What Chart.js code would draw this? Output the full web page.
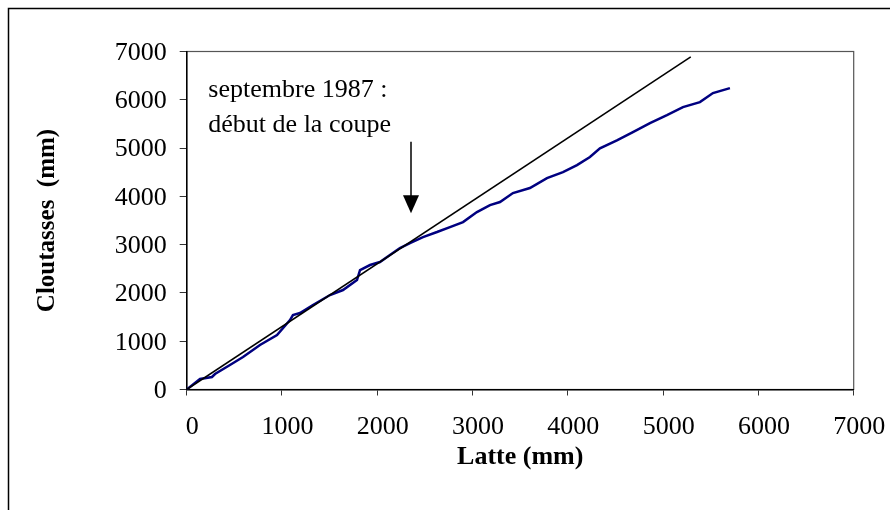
<!DOCTYPE html>
<html>
<head>
<meta charset="utf-8">
<script src="https://cdn.jsdelivr.net/npm/chart.js@4"></script>
<style>
  html, body { margin: 0; padding: 0; background: #fff; }
  #wrap { width: 890px; height: 510px; position: relative; }
</style>
</head>
<body>
<div id="wrap"><canvas id="chart"></canvas></div>
<script>
const latte = [0, 140, 265, 297, 454, 591, 769, 948, 1084, 1115, 1189, 1325, 1504, 1640, 1787, 1819, 1924, 2028, 2133, 2238,
  2343, 2480, 2627, 2763, 2900, 3046, 3183, 3288, 3424, 3602, 3781, 3949, 4096, 4232, 4337, 4515, 4683, 4862, 5040,
  5208, 5386, 5523, 5701];
const cloutasses = [0, 217, 259, 321, 507, 673, 921, 1129, 1439, 1542, 1584, 1749, 1957, 2060, 2267, 2474, 2578, 2640, 2785, 2930,
  3033, 3157, 3261, 3364, 3468, 3675, 3820, 3882, 4068, 4172, 4379, 4503, 4648, 4814, 4994, 5160, 5331, 5518, 5683,
  5849, 5952, 6139, 6242];

// droite de référence
const refX = [0, 5290];
const refY = [0, 6890];

const xTicks = [0, 1000, 2000, 3000, 4000, 5000, 6000, 7000];
const yTicks = [0, 1000, 2000, 3000, 4000, 5000, 6000, 7000];

// annotation (coordonnées en mm)
const noteLines = ['septembre 1987 :', 'début de la coupe'];
const noteX = 227;
const noteY = [6066, 5337];
const arrowX = 2354;
const arrowFrom = 5130;
const arrowTo = 3648;

const serif = "'Liberation Serif', 'Times New Roman', serif";

const toPoints = (xs, ys) => xs.map((x, i) => ({ x: x, y: ys[i] }));

const framePlugin = {
  id: 'frame',
  beforeDraw(chart) {
    const ctx = chart.ctx;
    ctx.save();
    ctx.fillStyle = '#fff';
    ctx.fillRect(0, 0, chart.width, chart.height);
    ctx.strokeStyle = '#000';
    ctx.lineWidth = 1.5;
    ctx.strokeRect(8.5, 8.5, 1000, 1000);
    const a = chart.chartArea;
    ctx.strokeStyle = '#555';
    ctx.lineWidth = 1.2;
    ctx.strokeRect(a.left, a.top, a.right - a.left, a.bottom - a.top);
    ctx.restore();
  }
};

const notePlugin = {
  id: 'note',
  afterDatasetsDraw(chart) {
    const ctx = chart.ctx;
    const xs = chart.scales.x, ys = chart.scales.y;
    ctx.save();
    ctx.fillStyle = '#000';
    ctx.font = '26px ' + serif;
    ctx.textAlign = 'left';
    ctx.textBaseline = 'alphabetic';
    noteLines.forEach((t, i) => {
      ctx.fillText(t, xs.getPixelForValue(noteX), ys.getPixelForValue(noteY[i]));
    });
    // flèche
    const ax = xs.getPixelForValue(arrowX);
    const y0 = ys.getPixelForValue(arrowFrom);
    const y1 = ys.getPixelForValue(arrowTo);
    ctx.strokeStyle = '#000';
    ctx.lineWidth = 1.5;
    ctx.beginPath();
    ctx.moveTo(ax, y0);
    ctx.lineTo(ax, y1 - 16);
    ctx.stroke();
    ctx.beginPath();
    ctx.moveTo(ax - 8, y1 - 18);
    ctx.lineTo(ax + 8, y1 - 18);
    ctx.lineTo(ax, y1);
    ctx.closePath();
    ctx.fill();
    ctx.restore();
  }
};

new Chart(document.getElementById('chart'), {
  type: 'scatter',
  data: {
    datasets: [
      {
        data: toPoints(refX, refY),
        showLine: true,
        borderColor: '#000',
        borderWidth: 1.6,
        pointRadius: 0
      },
      {
        data: toPoints(latte, cloutasses),
        showLine: true,
        borderColor: '#000080',
        borderWidth: 2.5,
        pointRadius: 0
      }
    ]
  },
  options: {
    responsive: true,
    maintainAspectRatio: false,
    animation: false,
    events: [],
    layout: { padding: { left: 0, top: 51.5, right: 36.3, bottom: 0 } },
    plugins: {
      legend: { display: false },
      tooltip: { enabled: false }
    },
    scales: {
      x: {
        type: 'linear',
        min: 0,
        max: 7000,
        afterBuildTicks: s => { s.ticks = xTicks.map(v => ({ value: v })); },
        afterFit: s => { s.height = 120.5; s.paddingLeft = 0; s.paddingRight = 0; },
        border: { color: '#000', width: 1.5 },
        grid: { drawOnChartArea: false, drawTicks: true, tickLength: 6, color: '#333' },
        ticks: {
          color: '#000', font: { family: serif, size: 26 }, padding: 16, labelOffset: 5.5, maxRotation: 0,
          callback: v => String(v)
        },
        title: {
          display: true,
          text: 'Latte (mm)',
          color: '#000',
          font: { family: serif, size: 26, weight: 'bold' },
          padding: { top: 0, bottom: 37 }
        }
      },
      y: {
        type: 'linear',
        min: 0,
        max: 7000,
        afterBuildTicks: s => { s.ticks = yTicks.map(v => ({ value: v })); },
        afterFit: s => { s.width = 186.7; s.paddingTop = 0; s.paddingBottom = 0; },
        border: { color: '#000', width: 1.5 },
        grid: { drawOnChartArea: false, drawTicks: true, tickLength: 7, color: '#333' },
        ticks: {
          color: '#000', font: { family: serif, size: 26 }, padding: 13, labelOffset: 1.5,
          callback: v => String(v)
        },
        title: {
          display: true,
          text: 'Cloutasses  (mm)',
          color: '#000',
          font: { family: serif, size: 25, weight: 'bold' },
          padding: { top: 33, bottom: 0 }
        }
      }
    }
  },
  plugins: [framePlugin, notePlugin]
});
</script>
</body>
</html>
